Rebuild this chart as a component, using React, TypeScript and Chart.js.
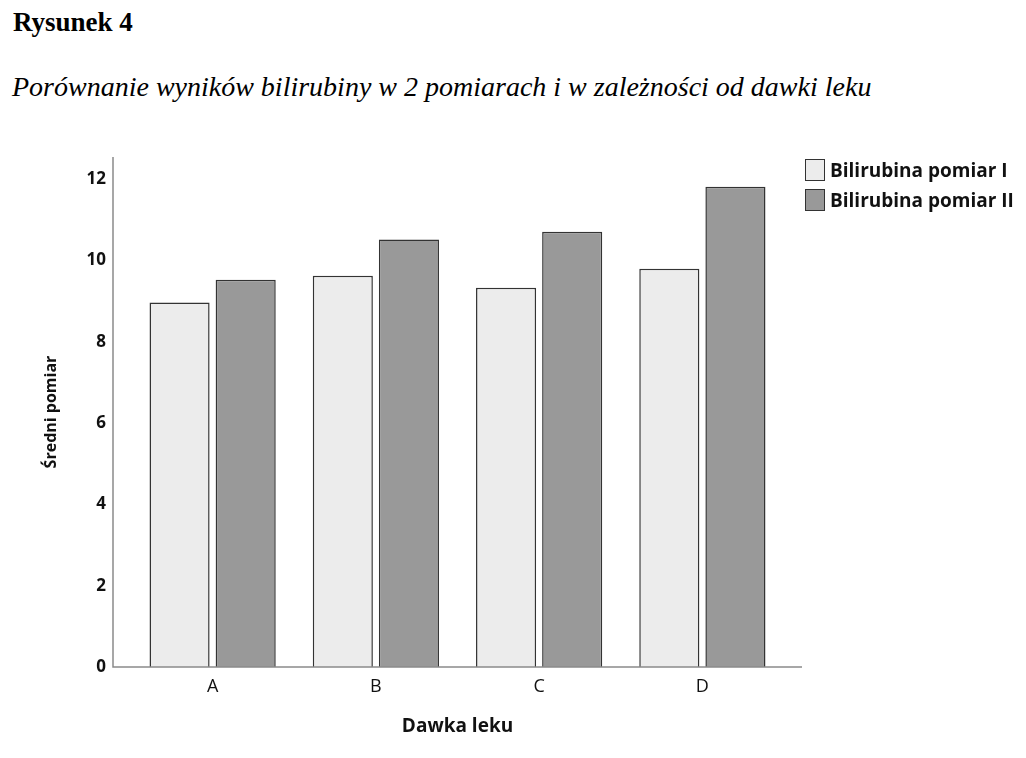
import React, { useEffect, useRef } from "react";
import { Chart, registerables } from "chart.js";

Chart.register(...registerables);

const categories = ["A", "B", "C", "D"];
const seriesNames = ["Bilirubina pomiar I", "Bilirubina pomiar II"];
const pomiarI = [8.97, 9.63, 9.33, 9.8];
const pomiarII = [9.53, 10.52, 10.71, 11.82];
const yTicks = [0, 2, 4, 6, 8, 10, 12];
const colors = ["#ececec", "#999999"];
const titleText = "Rysunek 4";
const subtitleText = "Porównanie wyników bilirubiny w 2 pomiarach i w zależności od dawki leku";
const xTitle = "Dawka leku";
const yTitle = "Średni pomiar";

const FONT = "'Open Sans', 'Noto Sans', sans-serif";

const axisLines = {
  id: "axisLines",
  afterDatasetsDraw(chart: any) {
    const { ctx, chartArea } = chart;
    const ext = 18;
    ctx.save();
    ctx.strokeStyle = "#8a8a8a";
    ctx.lineWidth = 1.5;
    ctx.beginPath();
    ctx.moveTo(chartArea.left - ext, chartArea.top);
    ctx.lineTo(chartArea.left - ext, chartArea.bottom);
    ctx.lineTo(chartArea.right + ext, chartArea.bottom);
    ctx.stroke();
    ctx.restore();
  },
};

export default function App() {
  const ref = useRef<HTMLCanvasElement>(null);
  useEffect(() => {
    if (!ref.current) return;
    const chart = new Chart(ref.current, {
      type: "bar",
      data: {
        labels: categories,
        datasets: [
          {
            label: seriesNames[0],
            data: pomiarI,
            backgroundColor: colors[0],
            borderColor: "#333333",
            borderWidth: 1.5,
          },
          {
            label: seriesNames[1],
            data: pomiarII,
            backgroundColor: colors[1],
            borderColor: "#333333",
            borderWidth: 1.5,
          },
        ],
      },
      options: {
        responsive: false,
        animation: false,
        layout: { padding: { top: 37, right: 242, left: 0, bottom: 0 } },
        datasets: {
          bar: { categoryPercentage: 0.81, barPercentage: 0.909 },
        },
        plugins: {
          legend: { display: false },
          tooltip: { enabled: false },
        },
        scales: {
          x: {
            grid: { display: false, drawTicks: false },
            border: { display: false },
            ticks: { color: "#111", font: { family: FONT, size: 18 }, padding: 9 },
            title: {
              display: true,
              text: xTitle,
              color: "#111",
              font: { family: FONT, size: 19, weight: "bold" },
              padding: { top: 0, bottom: 20 },
            },
            afterFit(scale: any) {
              scale.height = 91;
            },
          },
          y: {
            min: 0,
            max: 12.55,
            grid: { display: false, drawTicks: false },
            border: { display: false },
            ticks: {
              stepSize: 2,
              color: "#111",
              font: { family: FONT, size: 17, weight: "bold" },
              padding: 25,
            },
            afterBuildTicks(scale: any) {
              scale.ticks = yTicks.map((v) => ({ value: v }));
            },
            title: {
              display: true,
              text: yTitle,
              color: "#111",
              font: { family: FONT, size: 16, weight: "bold" },
              padding: { top: 42, bottom: 0 },
            },
            afterFit(scale: any) {
              scale.width = 131;
            },
          },
        },
      },
      plugins: [axisLines],
    } as any);
    return () => chart.destroy();
  }, []);

  return (
    <div style={{ position: "absolute", left: 0, top: 0, width: 1026, height: 758, background: "#fff" }}>
      <div
        style={{
          position: "absolute",
          left: 13,
          top: 6,
          fontFamily: "'Liberation Serif', 'Times New Roman', serif",
          fontWeight: "bold",
          fontSize: 27,
          lineHeight: "32px",
          color: "#000",
          whiteSpace: "nowrap",
        }}
      >
        {titleText}
      </div>
      <div
        style={{
          position: "absolute",
          left: 12,
          top: 70,
          fontFamily: "'Liberation Serif', 'Times New Roman', serif",
          fontStyle: "italic",
          fontSize: 28,
          lineHeight: "34px",
          color: "#000",
          whiteSpace: "nowrap",
        }}
      >
        {subtitleText}
      </div>
      <canvas
        ref={ref}
        width={1026}
        height={638}
        style={{ position: "absolute", left: 0, top: 120, width: 1026, height: 638 }}
      />
      <div style={{ position: "absolute", left: 805, top: 155 }}>
        {seriesNames.map((name, i) => (
          <div key={name} style={{ display: "flex", alignItems: "center", height: 30 }}>
            <div
              style={{
                width: 20,
                height: 22,
                background: colors[i],
                border: "1.5px solid #333",
                boxSizing: "border-box",
                marginRight: 5,
              }}
            />
            <span
              style={{
                fontFamily: FONT,
                fontWeight: "bold",
                fontSize: 19,
                color: "#111",
                whiteSpace: "nowrap",
              }}
            >
              {name}
            </span>
          </div>
        ))}
      </div>
    </div>
  );
}
